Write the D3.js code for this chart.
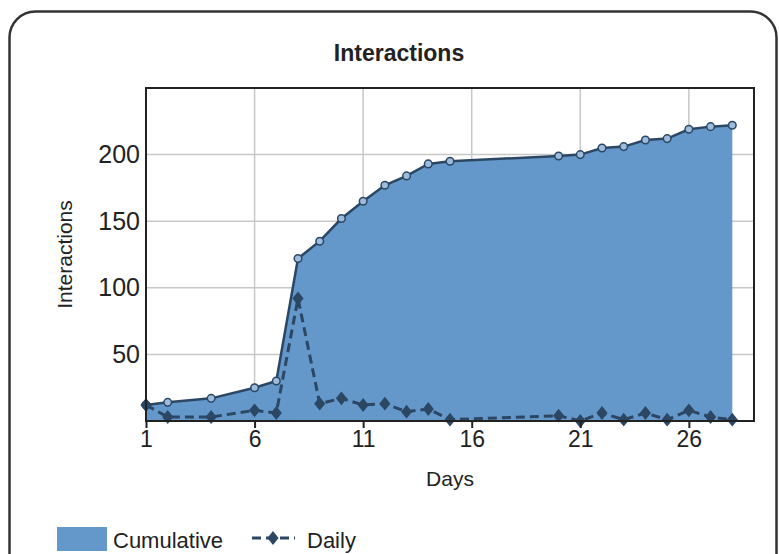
<!DOCTYPE html>
<html lang="en">

<head>
  <meta charset="UTF-8">
  <title>Interactions</title>
  <script src="https://cdn.jsdelivr.net/npm/d3@7"></script>
  <style>
    body { margin: 0; background: #fff; }
    text { font-family: "Liberation Sans", Arial, sans-serif; fill: #222; }
  </style>
</head>

<body>
<script>
let width = 779;
let height = 554;

// chart values
let days = [1, 2, 4, 6, 7, 8, 9, 10, 11, 12, 13, 14, 15, 20, 21, 22, 23, 24, 25, 26, 27, 28];
let cumulative = [12, 14, 17, 25, 30, 122, 135, 152, 165, 177, 184, 193, 195, 199, 200, 205, 206, 211, 212, 219, 221, 222];
let daily = [12, 3, 3, 8, 6, 92, 13, 17, 12, 13, 7, 9, 1, 4, 0, 6, 1, 6, 1, 8, 3, 1];
let xTicks = [1, 6, 11, 16, 21, 26];
let yTicks = [50, 100, 150, 200];
let seriesNames = ['Cumulative', 'Daily'];

let plotLeft = 146;
let plotRight = 754;
let plotTop = 88;
let plotBottom = 421;

let areaColor = '#6598ca';
let lineColor = '#2b4764';

let x = d3.scaleLinear()
  .domain([1, 29])
  .range([plotLeft, plotRight]);
let y = d3.scaleLinear()
  .domain([0, 250])
  .range([plotBottom, plotTop]);

let cumData = days.map(function (d, i) { return { x: d, y: cumulative[i] }; });
let dayData = days.map(function (d, i) { return { x: d, y: daily[i] }; });

let svg = d3.select('body').append('svg')
  .attr('width', width)
  .attr('height', height);

// outer rounded frame
svg.append('rect')
  .attr('x', 9.5)
  .attr('y', 11.5)
  .attr('width', 767)
  .attr('height', 640)
  .attr('rx', 26)
  .attr('fill', '#fff')
  .attr('stroke', '#333')
  .attr('stroke-width', 2.5);

svg.append('text')
  .attr('x', 399)
  .attr('y', 61)
  .attr('text-anchor', 'middle')
  .attr('font-size', 23)
  .attr('font-weight', 'bold')
  .text('Interactions');

// gridlines
svg.append('g')
  .selectAll('line')
  .data(yTicks)
  .enter()
  .append('line')
  .attr('x1', plotLeft)
  .attr('x2', plotRight)
  .attr('y1', function (d) { return y(d); })
  .attr('y2', function (d) { return y(d); })
  .attr('stroke', '#c8c8c8')
  .attr('stroke-width', 1.5);

svg.append('g')
  .selectAll('line')
  .data(xTicks)
  .enter()
  .append('line')
  .attr('x1', function (d) { return x(d); })
  .attr('x2', function (d) { return x(d); })
  .attr('y1', plotTop)
  .attr('y2', plotBottom)
  .attr('stroke', '#c8c8c8')
  .attr('stroke-width', 1.5);

// cumulative area
let area = d3.area()
  .x(function (d) { return x(d.x); })
  .y0(y(0))
  .y1(function (d) { return y(d.y); });

svg.append('path')
  .datum(cumData)
  .attr('d', area)
  .attr('fill', areaColor);

let line = d3.line()
  .x(function (d) { return x(d.x); })
  .y(function (d) { return y(d.y); });

svg.append('path')
  .datum(cumData)
  .attr('d', line)
  .attr('fill', 'none')
  .attr('stroke', lineColor)
  .attr('stroke-width', 2.5);

svg.append('g')
  .selectAll('circle')
  .data(cumData)
  .enter()
  .append('circle')
  .attr('cx', function (d) { return x(d.x); })
  .attr('cy', function (d) { return y(d.y); })
  .attr('r', 3.8)
  .attr('fill', '#9dbbdc')
  .attr('stroke', lineColor)
  .attr('stroke-width', 1.5);

// daily dashed line
svg.append('path')
  .datum(dayData)
  .attr('d', line)
  .attr('fill', 'none')
  .attr('stroke', lineColor)
  .attr('stroke-width', 3)
  .attr('stroke-dasharray', '9,5');

let diamond = d3.symbol().type(d3.symbolDiamond).size(55);

svg.append('g')
  .selectAll('path')
  .data(dayData)
  .enter()
  .append('path')
  .attr('d', diamond)
  .attr('transform', function (d) {
    return 'translate(' + x(d.x) + ',' + y(d.y) + ') scale(1.4,1)';
  })
  .attr('fill', lineColor);

// plot border
svg.append('rect')
  .attr('x', plotLeft)
  .attr('y', plotTop)
  .attr('width', plotRight - plotLeft)
  .attr('height', plotBottom - plotTop)
  .attr('fill', 'none')
  .attr('stroke', '#222')
  .attr('stroke-width', 2);

// axes
let xAxis = d3.axisBottom(x)
  .tickValues(xTicks)
  .tickSize(7)
  .tickFormat(d3.format('d'));

let gx = svg.append('g')
  .attr('transform', 'translate(0,' + plotBottom + ')')
  .call(xAxis);
gx.select('.domain').remove();
gx.selectAll('line').attr('stroke', '#222').attr('stroke-width', 2);
gx.selectAll('text')
  .attr('font-size', 23)
  .attr('font-family', '"Liberation Sans", Arial, sans-serif')
  .attr('fill', '#222')
  .attr('dy', '0.71em')
  .attr('y', 10);

let yAxis = d3.axisLeft(y)
  .tickValues(yTicks)
  .tickSize(0)
  .tickPadding(6);

let gy = svg.append('g')
  .attr('transform', 'translate(' + plotLeft + ',0)')
  .call(yAxis);
gy.select('.domain').remove();
gy.selectAll('text')
  .attr('font-size', 25)
  .attr('font-family', '"Liberation Sans", Arial, sans-serif')
  .attr('fill', '#222');

svg.append('text')
  .attr('x', (plotLeft + plotRight) / 2)
  .attr('y', 486)
  .attr('text-anchor', 'middle')
  .attr('font-size', 21)
  .text('Days');

svg.append('text')
  .attr('transform', 'translate(72,' + (plotTop + plotBottom) / 2 + ') rotate(-90)')
  .attr('text-anchor', 'middle')
  .attr('font-size', 21)
  .text('Interactions');

// legend
let legend = svg.append('g');

legend.append('rect')
  .attr('x', 57)
  .attr('y', 527)
  .attr('width', 50)
  .attr('height', 24)
  .attr('fill', areaColor);

legend.append('text')
  .attr('x', 113)
  .attr('y', 548)
  .attr('font-size', 22)
  .text(seriesNames[0]);

legend.append('line')
  .attr('x1', 252)
  .attr('x2', 295)
  .attr('y1', 538)
  .attr('y2', 538)
  .attr('stroke', lineColor)
  .attr('stroke-width', 3)
  .attr('stroke-dasharray', '9,5');

legend.append('path')
  .attr('d', diamond)
  .attr('transform', 'translate(273,538) scale(1.4,1)')
  .attr('fill', lineColor);

legend.append('text')
  .attr('x', 307)
  .attr('y', 548)
  .attr('font-size', 22)
  .text(seriesNames[1]);
</script>
</body>

</html>
